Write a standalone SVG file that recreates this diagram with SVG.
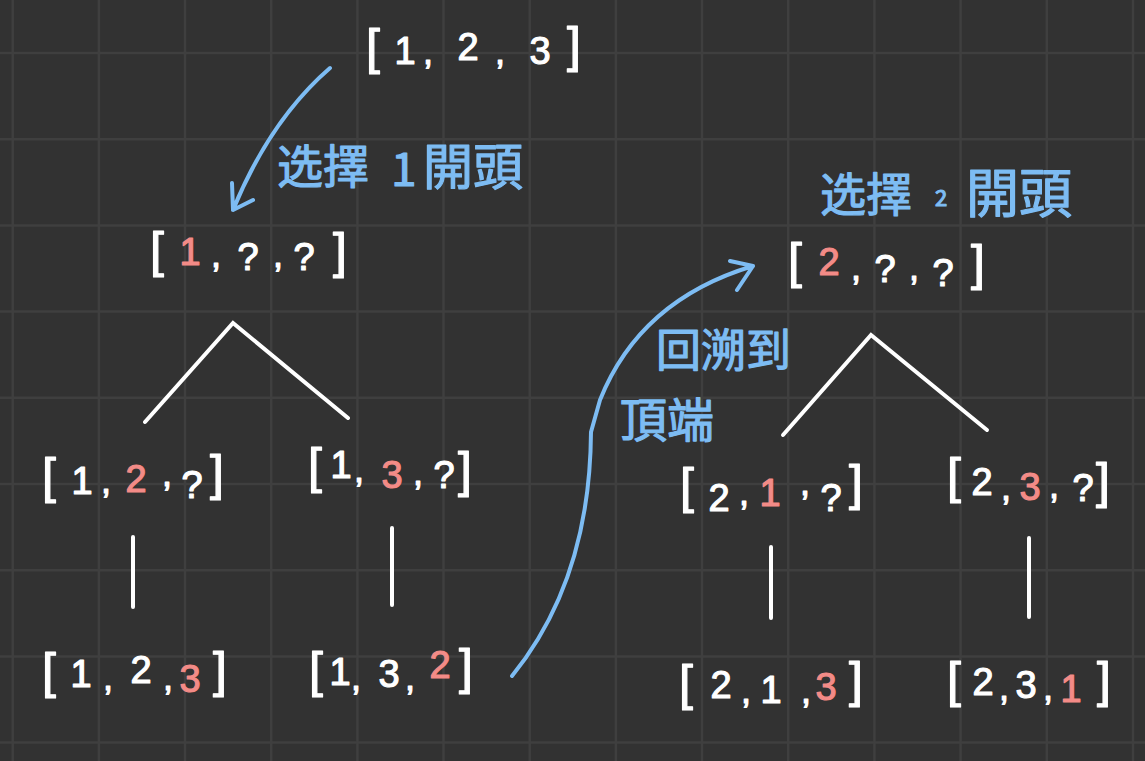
<svg xmlns="http://www.w3.org/2000/svg" width="1145" height="761" viewBox="0 0 1145 761">
<style>
.bg{fill:#323232}
.grid{stroke:#3f3f3f;stroke-width:2.5;fill:none}
.arr{font-family:"Liberation Sans","DejaVu Sans",sans-serif;font-size:38px;fill:#ffffff;stroke:#ffffff;stroke-width:1.2;stroke-linejoin:round;text-anchor:middle}
.br{font-size:50px}
.cm{font-size:36px}
.hl{fill:#f38b87;stroke:#f38b87}
.edge{stroke:#ffffff;stroke-width:4;stroke-linecap:round;fill:none}
.blue{stroke:#7dbcf3;stroke-width:4;stroke-linecap:round;stroke-linejoin:round;fill:none}
.lbl{font-family:"Noto Sans CJK TC","Noto Sans CJK SC",sans-serif;fill:#7dbcf3;stroke:#7dbcf3;stroke-width:1.2;stroke-linejoin:round}
</style>
<rect class="bg" x="0" y="0" width="1145" height="761"/>
<path class="grid" d="M12.7 0V761M98.9 0V761M185 0V761M271.2 0V761M357.4 0V761M443.5 0V761M529.7 0V761M615.9 0V761M702 0V761M788.2 0V761M874.4 0V761M960.6 0V761M1046.8 0V761M1133 0V761M0 53H1145M0 139.2H1145M0 225.4H1145M0 311.6H1145M0 397.8H1145M0 484H1145M0 570.2H1145M0 656.4H1145M0 742.6H1145"/>

<g id="connectors">
<path class="edge" d="M145 422L233 323L348 418"/>
<path class="edge" d="M783 435L871 335L987 430"/>
<path class="edge" d="M133 537V607M392 528V605M771 547V618M1029 538V617"/>
<path class="blue" d="M330 68Q270 120 233 210M232 183L233 210L253 200"/>
<path class="blue" d="M512 676Q590 580 591 432L600 400Q640 300 753 266M730 261L753 266L737 290"/>
</g>

<g id="label-pick1">
<text class="lbl" x="277" y="183" font-size="46">选擇</text>
<text class="lbl" x="391" y="186" font-size="46" font-family="Liberation Sans">1</text>
<text class="lbl" x="423" y="185" font-size="50">開頭</text>
</g>
<g id="label-pick2">
<text class="lbl" x="820" y="211" font-size="46">选擇</text>
<text class="lbl" x="935" y="206" font-size="22" font-family="Liberation Sans">2</text>
<text class="lbl" x="966" y="213" font-size="53">開頭</text>
</g>
<g id="label-backtrack">
<text class="lbl" x="656" y="367" font-size="45">回溯到</text>
<text class="lbl" x="620" y="437" font-size="47">頂端</text>
</g>

<g id="node-123">
<text class="arr"><tspan class="br" x="373" y="64">[</tspan><tspan x="405" y="64">1</tspan><tspan class="cm" x="428" y="64">,</tspan><tspan x="468" y="60">2</tspan><tspan class="cm" x="500" y="64">,</tspan><tspan x="540" y="64">3</tspan><tspan class="br" x="574" y="62">]</tspan></text>
</g>
<g id="node-1xx">
<text class="arr"><tspan class="br" x="157" y="267">[</tspan><tspan class="hl" x="190" y="265">1</tspan><tspan class="cm" x="216" y="267">,</tspan><tspan x="248" y="270">?</tspan><tspan class="cm" x="278" y="267">,</tspan><tspan x="304" y="270">?</tspan><tspan class="br" x="340" y="268">]</tspan></text>
</g>
<g id="node-12x">
<text class="arr"><tspan class="br" x="49" y="493">[</tspan><tspan x="82" y="494">1</tspan><tspan class="cm" x="106" y="493">,</tspan><tspan class="hl" x="136" y="492">2</tspan><tspan class="cm" x="167" y="486">,</tspan><tspan x="192" y="498">?</tspan><tspan class="br" x="217" y="490">]</tspan></text>
</g>
<g id="node-13x">
<text class="arr"><tspan class="br" x="315" y="483">[</tspan><tspan x="341" y="478">1</tspan><tspan class="cm" x="359" y="482">,</tspan><tspan class="hl" x="392" y="488">3</tspan><tspan class="cm" x="418" y="485">,</tspan><tspan x="444" y="488">?</tspan><tspan class="br" x="465" y="487">]</tspan></text>
</g>
<g id="node-123-leaf">
<text class="arr"><tspan class="br" x="49" y="688">[</tspan><tspan x="81" y="687">1</tspan><tspan class="cm" x="108" y="690">,</tspan><tspan x="141" y="683">2</tspan><tspan class="cm" x="168" y="690">,</tspan><tspan class="hl" x="190" y="692">3</tspan><tspan class="br" x="220" y="687">]</tspan></text>
</g>
<g id="node-132-leaf">
<text class="arr"><tspan class="br" x="316" y="687">[</tspan><tspan x="340" y="685">1</tspan><tspan class="cm" x="356" y="690">,</tspan><tspan x="389" y="687">3</tspan><tspan class="cm" x="410" y="690">,</tspan><tspan class="hl" x="440" y="678">2</tspan><tspan class="br" x="466" y="684">]</tspan></text>
</g>
<g id="node-2xx">
<text class="arr"><tspan class="br" x="795" y="278">[</tspan><tspan class="hl" x="829" y="275">2</tspan><tspan class="cm" x="856" y="280">,</tspan><tspan x="885" y="282">?</tspan><tspan class="cm" x="914" y="280">,</tspan><tspan x="943" y="286">?</tspan><tspan class="br" x="978" y="280">]</tspan></text>
</g>
<g id="node-21x">
<text class="arr"><tspan class="br" x="687" y="503">[</tspan><tspan x="719" y="511">2</tspan><tspan class="cm" x="744" y="505">,</tspan><tspan class="hl" x="770" y="506">1</tspan><tspan class="cm" x="805" y="495">,</tspan><tspan x="831" y="511">?</tspan><tspan class="br" x="856" y="500">]</tspan></text>
</g>
<g id="node-23x">
<text class="arr"><tspan class="br" x="954" y="493">[</tspan><tspan x="982" y="495">2</tspan><tspan class="cm" x="1006" y="500">,</tspan><tspan class="hl" x="1030" y="500">3</tspan><tspan class="cm" x="1054" y="498">,</tspan><tspan x="1083" y="501">?</tspan><tspan class="br" x="1103" y="498">]</tspan></text>
</g>
<g id="node-213-leaf">
<text class="arr"><tspan class="br" x="686" y="700">[</tspan><tspan x="721" y="698">2</tspan><tspan class="cm" x="746" y="703">,</tspan><tspan x="771" y="703">1</tspan><tspan class="cm" x="806" y="703">,</tspan><tspan class="hl" x="826" y="700">3</tspan><tspan class="br" x="856" y="697">]</tspan></text>
</g>
<g id="node-231-leaf">
<text class="arr"><tspan class="br" x="954" y="697">[</tspan><tspan x="983" y="695">2</tspan><tspan class="cm" x="1004" y="700">,</tspan><tspan x="1026" y="698">3</tspan><tspan class="cm" x="1048" y="700">,</tspan><tspan class="hl" x="1071" y="702">1</tspan><tspan class="br" x="1104" y="697">]</tspan></text>
</g>
</svg>
